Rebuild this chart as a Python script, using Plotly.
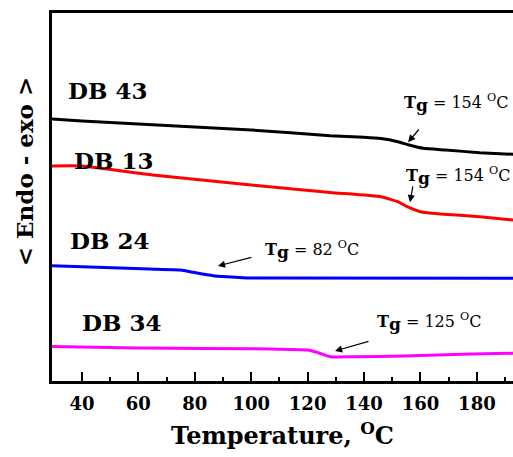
import plotly.graph_objects as go

# DSC traces (heat flow, arbitrary units) vs temperature in °C
t_db43 = [29.4, 40, 60, 80, 100, 128, 140, 146, 152, 156, 161, 169, 181, 193]
y_db43 = [7.120, 7.065, 6.984, 6.902, 6.821, 6.666, 6.625, 6.590, 6.503, 6.413, 6.323, 6.277, 6.204, 6.160]

t_db13 = [29.4, 40, 65, 100, 128, 146, 152, 155.3, 160, 167, 181, 193]
y_db13 = [5.842, 5.842, 5.598, 5.326, 5.122, 5.008, 4.872, 4.736, 4.601, 4.538, 4.465, 4.375]

t_db24 = [29.4, 64, 75, 79.4, 86.5, 91.4, 100, 193]
y_db24 = [3.133, 3.043, 3.016, 2.954, 2.861, 2.834, 2.799, 2.791]

t_db34 = [29.4, 60, 107, 120, 123.3, 128, 136, 154, 166, 178, 193]
y_db34 = [0.938, 0.897, 0.870, 0.842, 0.780, 0.660, 0.660, 0.679, 0.707, 0.734, 0.753]

sample_names = ["DB 43", "DB 13", "DB 24", "DB 34"]
colors = ["#000000", "#ff0000", "#0000ff", "#ff00ff"]
tg_values = [154, 154, 82, 125]

x_ticks = [40, 60, 80, 100, 120, 140, 160, 180]
x_minor = [50, 70, 90, 110, 130, 150, 170, 190]

FONT = "DejaVu Serif"

fig = go.Figure()
for t, y, c, n in zip([t_db43, t_db13, t_db24, t_db34],
                      [y_db43, y_db13, y_db24, y_db34], colors, sample_names):
    fig.add_trace(go.Scatter(x=t, y=y, mode="lines", name=n,
                             line=dict(color=c, width=3, shape="spline", smoothing=0.4)))

# sample labels
label_pos = [(34.3, 7.90), (36.4, 5.98), (34.9, 3.83), (39.4, 1.60)]
for (lx, ly), n in zip(label_pos, sample_names):
    fig.add_annotation(x=lx, y=ly, text=f"<b>{n}</b>", showarrow=False,
                       xanchor="left", yanchor="middle",
                       font=dict(family=FONT, size=23, color="black"))

# glass transition labels and pointers
tg_text_pos = [(153.6, 7.55), (154.2, 5.58), (104.2, 3.55), (143.9, 1.60)]
arrow_heads = [(155.6, 6.49), (156.3, 4.86), (88.2, 3.125), (129.7, 0.815)]
arrow_tails = [(159.9, 6.875), (157.4, 5.33), (100.6, 3.37), (142.1, 1.087)]
for (tx, ty), tg in zip(tg_text_pos, tg_values):
    fig.add_annotation(x=tx, y=ty, showarrow=False, xanchor="left", yanchor="middle",
                       text=(f"<b>T<sub><span style='font-size:17px'>g</span></sub></b>"
                             f" = {tg} <sup>O</sup>C"),
                       font=dict(family=FONT, size=16, color="black"))
for (hx, hy), (ax, ay) in zip(arrow_heads, arrow_tails):
    fig.add_annotation(x=hx, y=hy, ax=ax, ay=ay, axref="x", ayref="y",
                       text="", showarrow=True, arrowhead=2, arrowsize=1.2,
                       arrowwidth=1.2, arrowcolor="black")

# vertical axis caption
fig.add_annotation(xref="paper", yref="paper", x=-0.058, y=0.568,
                   text="<b>&lt; Endo - exo &gt;</b>", textangle=-90, showarrow=False,
                   xanchor="center", yanchor="middle",
                   font=dict(family=FONT, size=23, color="black"))

fig.update_layout(
    width=513, height=457,
    margin=dict(l=52, r=0, t=13, b=76),
    plot_bgcolor="white", paper_bgcolor="white",
    showlegend=False,
    xaxis=dict(
        range=[29.4, 192.8], showgrid=False, zeroline=False,
        showline=True, linewidth=3, linecolor="black", mirror=True,
        tickmode="array", tickvals=x_ticks,
        ticks="inside", ticklen=9, tickwidth=2, tickcolor="black",
        minor=dict(ticks="inside", ticklen=4, tickwidth=2, tickcolor="black",
                   tickmode="array", tickvals=x_minor),
        tickfont=dict(family=FONT, size=18, color="black", weight="bold"),
        ticklabelstandoff=4,
        title=dict(text="<b>Temperature, <sup>O</sup>C</b>", standoff=15,
                   font=dict(family=FONT, size=24, color="black")),
    ),
    yaxis=dict(
        range=[0, 10], showgrid=False, zeroline=False,
        showline=True, linewidth=3, linecolor="black", mirror=False,
        showticklabels=False, ticks="",
    ),
)

fig.write_html("out.html")
